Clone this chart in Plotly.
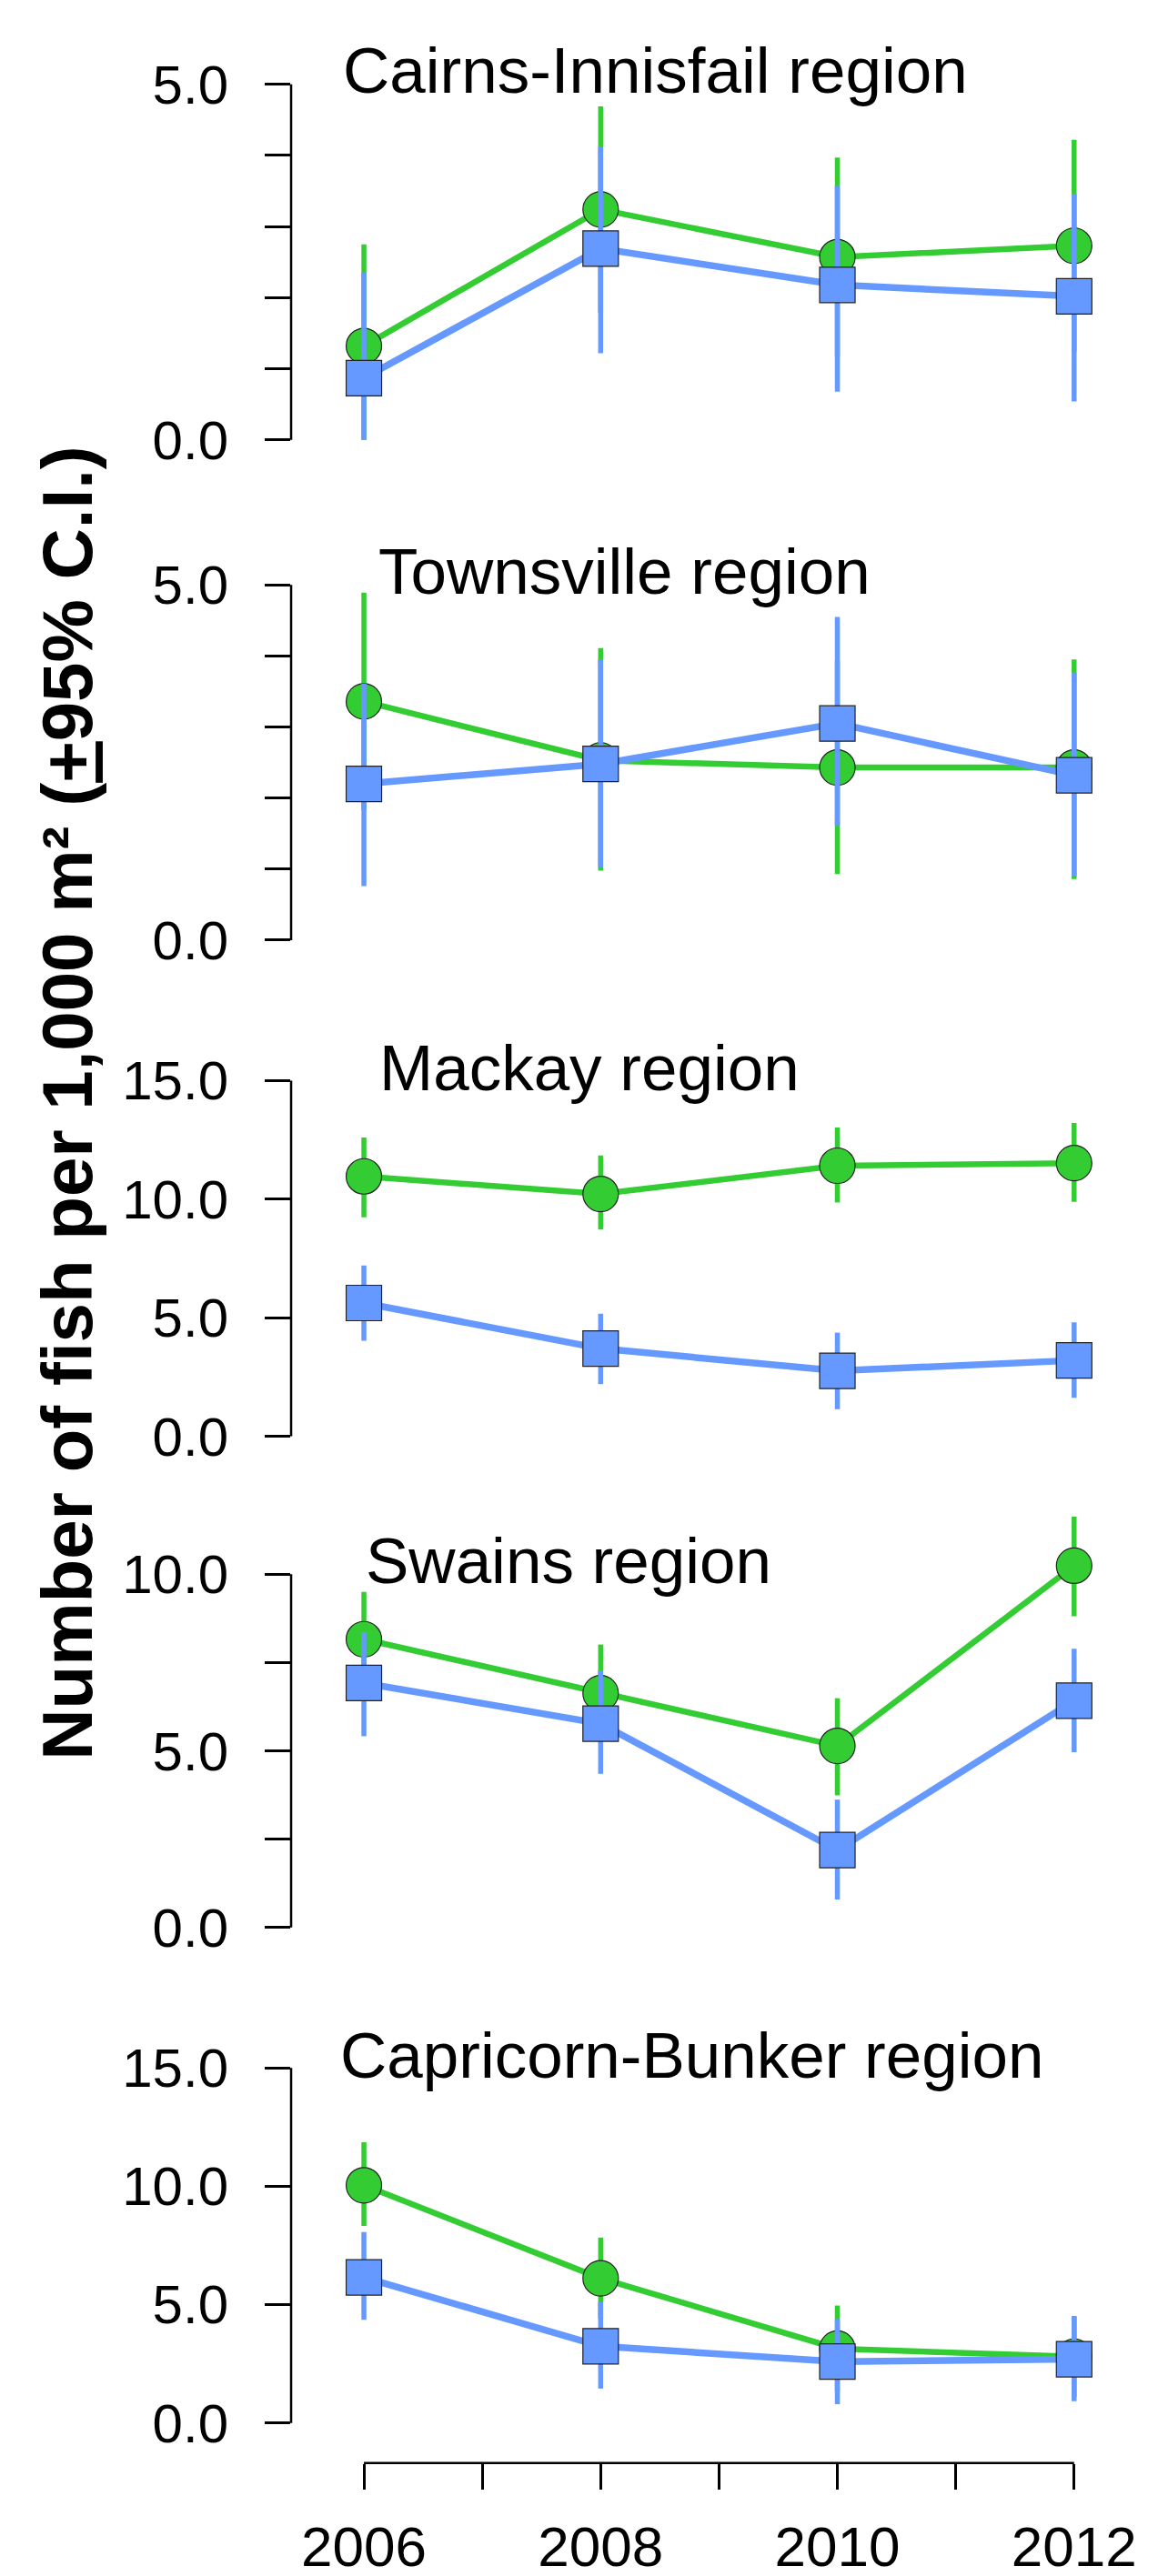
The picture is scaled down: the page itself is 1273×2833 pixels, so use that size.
import plotly.graph_objects as go

years = [2006, 2008, 2010, 2012]
region_names = ["Cairns-Innisfail region", "Townsville region", "Mackay region",
                "Swains region", "Capricorn-Bunker region"]

# Green zones (circles)
green_mean = [
    [1.32, 3.24, 2.57, 2.73],
    [3.36, 2.53, 2.43, 2.43],
    [10.96, 10.22, 11.41, 11.52],
    [8.16, 6.63, 5.14, 10.24],
    [10.04, 6.11, 3.14, 2.80],
]
green_lower = [
    [0.00, 1.79, 1.17, 1.24],
    [1.83, 0.98, 0.93, 0.86],
    [9.23, 8.72, 9.86, 9.89],
    [6.82, 5.25, 3.74, 8.81],
    [8.32, 4.40, 1.32, 1.10],
]
green_upper = [
    [2.75, 4.69, 3.97, 4.22],
    [4.89, 4.11, 3.93, 3.95],
    [12.60, 11.84, 13.02, 13.21],
    [9.50, 8.01, 6.49, 11.63],
    [11.86, 7.83, 4.96, 4.50],
]
# Blue zones (squares)
blue_mean = [
    [0.87, 2.69, 2.18, 2.02],
    [2.20, 2.48, 3.05, 2.32],
    [5.62, 3.70, 2.76, 3.20],
    [6.92, 5.77, 2.19, 6.42],
    [6.15, 3.24, 2.59, 2.69],
]
blue_lower = [
    [0.00, 1.22, 0.68, 0.54],
    [0.76, 1.02, 1.61, 0.90],
    [4.03, 2.20, 1.14, 1.62],
    [5.41, 4.35, 0.79, 4.96],
    [4.36, 1.45, 0.79, 0.92],
]
blue_upper = [
    [2.35, 4.12, 3.57, 3.46],
    [3.61, 3.95, 4.55, 3.76],
    [7.20, 5.17, 4.37, 4.81],
    [8.36, 7.27, 3.62, 7.89],
    [8.06, 5.10, 4.39, 4.52],
]

y_tickvals = [
    [0, 1, 2, 3, 4, 5],
    [0, 1, 2, 3, 4, 5],
    [0, 5, 10, 15],
    [0, 2.5, 5, 7.5, 10],
    [0, 5, 10, 15],
]
y_ticktext = [
    ["0.0", "", "", "", "", "5.0"],
    ["0.0", "", "", "", "", "5.0"],
    ["0.0", "5.0", "10.0", "15.0"],
    ["0.0", "", "5.0", "", "10.0"],
    ["0.0", "5.0", "10.0", "15.0"],
]
x_tickvals = [2006, 2007, 2008, 2009, 2010, 2011, 2012]
x_ticktext = ["2006", "", "2008", "", "2010", "", "2012"]

y_title = "Number of fish per 1,000 m² (<u>+</u>95% C.I.)"

GREEN = "#33CC33"
BLUE = "#6699FF"
FONT = "Liberation Sans, Arial, Helvetica, sans-serif"

W, H = 1273, 2833
# layout geometry (pixels)
x_left_px, x_right_px = 317, 1240
px_per_year = 132.2
x_min = 2006 - (398.3 - x_left_px) / px_per_year
x_max = x_min + (x_right_px - x_left_px) / px_per_year
panel_top_px = [85, 637.7, 1185, 1730, 2275]
panel_bot_px = [477.7, 1030, 1577.7, 2120, 2667]
title_left_px = [373, 412, 413, 398, 370]
title_mid_px = [69.6, 622.8, 1171, 1715, 2261]
xaxis_px = 2711.3

fig = go.Figure()
shapes = []
annotations = []
layout_axes = {}

for i in range(5):
    yname = "y" if i == 0 else f"y{i+1}"
    ykey = "yaxis" if i == 0 else f"yaxis{i+1}"
    vmax = y_tickvals[i][-1]
    T, B = panel_top_px[i], panel_bot_px[i]
    u = (B - T) / vmax
    lo, hi = -0.06 * vmax, 1.2 * vmax
    top_px = T - (hi - vmax) * u
    bot_px = B - lo * u
    dom = [1 - bot_px / H, 1 - top_px / H]

    for mean, lower, upper, color, sym, lw, nm in [
        (green_mean[i], green_lower[i], green_upper[i], GREEN, "circle", 6.5, "Green zones"),
        (blue_mean[i], blue_lower[i], blue_upper[i], BLUE, "square", 7.5, "Blue zones"),
    ]:
        fig.add_trace(go.Scatter(
            x=years, y=mean, xaxis="x", yaxis=yname, name=nm,
            mode="lines+markers", cliponaxis=False,
            line=dict(color=color, width=lw),
            marker=dict(symbol=sym, size=39, color=color,
                        line=dict(color="#222222", width=1.2)),
            error_y=dict(type="data", symmetric=False,
                         array=[up - m for up, m in zip(upper, mean)],
                         arrayminus=[m - lw_ for m, lw_ in zip(mean, lower)],
                         color=color, thickness=5.5, width=0),
            showlegend=False,
        ))

    layout_axes[ykey] = dict(
        domain=dom, range=[lo, hi], anchor="x",
        showline=False, showgrid=False, zeroline=False,
        ticks="outside", ticklen=28, tickwidth=2.5, tickcolor="black",
        tickmode="array", tickvals=y_tickvals[i], ticktext=y_ticktext[i],
        tickfont=dict(family=FONT, size=60, color="black"),
        ticklabelstandoff=28,
    )
    shapes.append(dict(type="line", xref="paper", yref=yname,
                       x0=x_left_px / W, x1=x_left_px / W, y0=0, y1=vmax,
                       line=dict(color="black", width=2.5)))
    annotations.append(dict(
        text=region_names[i], xref="paper", yref="paper",
        x=title_left_px[i] / W, y=1 - title_mid_px[i] / H,
        xanchor="left", yanchor="middle", showarrow=False,
        font=dict(family=FONT, size=71, color="black"),
    ))

# bottom x axis line (from first to last tick)
shapes.append(dict(type="line", xref="x", yref="paper",
                   x0=years[0], x1=years[-1],
                   y0=1 - xaxis_px / H, y1=1 - xaxis_px / H,
                   line=dict(color="black", width=2.5)))

annotations.append(dict(
    text=y_title, xref="paper", yref="paper",
    x=67 / W, y=1 - 1209.5 / H, xanchor="center", yanchor="middle",
    textangle=-90, showarrow=False,
    font=dict(family=FONT, size=78, color="black", weight="bold"),
))

fig.update_layout(
    width=W, height=H,
    margin=dict(l=0, r=0, t=0, b=0),
    paper_bgcolor="white", plot_bgcolor="white",
    showlegend=False,
    xaxis=dict(
        domain=[x_left_px / W, x_right_px / W], range=[x_min, x_max],
        anchor="free", position=1 - xaxis_px / H,
        showline=False, showgrid=False, zeroline=False,
        ticks="outside", ticklen=28, tickwidth=2.5, tickcolor="black",
        tickmode="array", tickvals=x_tickvals, ticktext=x_ticktext,
        tickfont=dict(family=FONT, size=62, color="black"),
        ticklabelstandoff=10,
    ),
    shapes=shapes,
    annotations=annotations,
    **layout_axes,
)

fig.write_html("out.html")
